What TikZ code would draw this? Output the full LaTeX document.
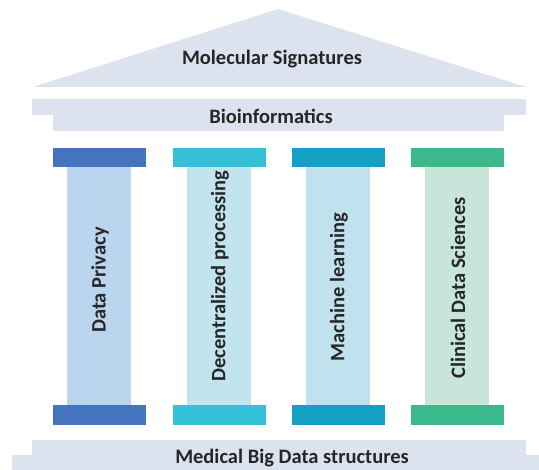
\documentclass[tikz,border=0pt]{standalone}
\usepackage{fontspec}
\setmainfont{Carlito}
\usetikzlibrary{calc}

\definecolor{roofgray}{HTML}{DCE2EE}
\definecolor{capA}{HTML}{4474BE}
\definecolor{shaftA}{HTML}{BCD5EE}
\definecolor{capB}{HTML}{35C0D9}
\definecolor{shaftB}{HTML}{C2E4EE}
\definecolor{capC}{HTML}{12A0C4}
\definecolor{shaftC}{HTML}{C0E2EF}
\definecolor{capD}{HTML}{3CB98A}
\definecolor{shaftD}{HTML}{C7E6D9}

\tikzset{
  label/.style={font=\bfseries\fontsize{20.5}{22}\selectfont, text=black!85, inner sep=0pt},
  pillarlabel/.style={label, rotate=90}
}

\begin{document}
\begin{tikzpicture}[x=1pt,y=-1pt]
              \useasboundingbox (0,0) rectangle (539,470);
              % roof
              \coordinate (RL) at (33,87);
              \coordinate (RR) at (526,87);
              \coordinate (RT) at (278,9);
              \fill[roofgray] (RL)--(RT)--(RR)--cycle;
              \node[label] (molsig) at (272,59) {Molecular Signatures};
              % lintel
              \fill[roofgray] (32,99) rectangle (526,115);
              \fill[roofgray] (53,115) rectangle (504,131);
              \node[label] (bioinf) at (271,116) {Bioinformatics};
              % pillars
              \begin{scope}[xshift=53pt]
                \fill[shaftA] (14,167) rectangle (78,405);
                \fill[capA] (0,148) rectangle (93,167);
                \fill[capA] (0,405) rectangle (93,425);
                \node[pillarlabel] (privacy) at (47,280) {Data Privacy};
              \end{scope}
              \begin{scope}[xshift=173pt]
                \fill[shaftB] (14,167) rectangle (78,405);
                \fill[capB] (0,148) rectangle (93,167);
                \fill[capB] (0,405) rectangle (93,425);
                \node[pillarlabel] (decentral) at (47,276) {Decentralized processing};
              \end{scope}
              \begin{scope}[xshift=292pt]
                \fill[shaftC] (14,167) rectangle (78,405);
                \fill[capC] (0,148) rectangle (93,167);
                \fill[capC] (0,405) rectangle (93,425);
                \node[pillarlabel] (machine) at (47,287) {Machine learning};
              \end{scope}
              \begin{scope}[xshift=411pt]
                \fill[shaftD] (14,167) rectangle (78,405);
                \fill[capD] (0,148) rectangle (93,167);
                \fill[capD] (0,405) rectangle (93,425);
                \node[pillarlabel] (clinical) at (47,288) {Clinical Data Sciences};
              \end{scope}
              % base
              \fill[roofgray] (32,440) rectangle (526,456);
              \fill[roofgray] (12,455) rectangle (539,470);
              \node[label] (medbig) at (292,458.5) {Medical Big Data structures};
\end{tikzpicture}
\end{document}
